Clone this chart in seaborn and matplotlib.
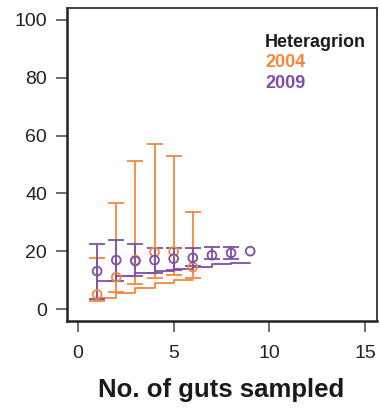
import matplotlib
matplotlib.use("Agg")
import matplotlib.pyplot as plt
import seaborn as sns
import pandas as pd

# Sampling-effort curves for Heteragrion guts, two survey years
guts_2004 = [1, 2, 3, 4, 5, 6]
mean_2004 = [5.2, 11.1, 17.0, 19.8, 20.0, 14.6]
upper_2004 = [17.6, 36.6, 51.1, 57.2, 52.9, 33.7]
lower_2004 = [2.9, 6.0, 8.6, 10.9, 11.8, 10.9]
minline_2004 = [4.0, 5.7, 7.5, 9.0, 10.1, 10.1]

guts_2009 = [1, 2, 3, 4, 5, 6, 7, 8, 9]
mean_2009 = [13.2, 17.0, 16.7, 17.0, 17.5, 17.8, 18.7, 19.5, 20.1]
upper_2009 = [22.6, 24.1, 22.6, 21.1, 21.1, 21.1, 21.6, 21.6, None]
lower_2009 = [3.7, 9.8, 11.5, 12.6, 13.6, 15.0, 17.3, 17.5, None]
minline_2009 = [9.8, 11.5, 12.6, 13.4, 14.0, 14.8, 15.5, 16.1, 16.1]

x_ticks = [0, 5, 10, 15]
y_ticks = [0, 20, 40, 60, 80, 100]
legend_title = "Heteragrion"
years = ["2004", "2009"]

ORANGE = "#F5873D"
PURPLE = "#7D50A6"

sns.set_theme(style="ticks")
plt.rcParams["font.family"] = ["Liberation Sans", "DejaVu Sans"]

fig = plt.figure(figsize=(3.8, 4.13), dpi=100)
ax = fig.add_axes([0.175, 0.2228, 0.8158, 0.7578])

series = [
    (years[0], ORANGE, guts_2004, mean_2004, upper_2004, lower_2004, minline_2004),
    (years[1], PURPLE, guts_2009, mean_2009, upper_2009, lower_2009, minline_2009),
]

for year, color, gx, gm, gu, gl, gmin in series:
    df = pd.DataFrame({"guts": gx, "mean": gm, "upper": gu, "lower": gl, "minline": gmin})
    # running minimum drawn as a step curve
    sns.lineplot(data=df, x="guts", y="minline", color=color, lw=1.3,
                 drawstyle="steps-post", ax=ax, legend=False)
    # interval bars with wide caps
    bars = df.dropna()
    ax.errorbar(bars["guts"], bars["mean"],
                yerr=[bars["mean"] - bars["lower"], bars["upper"] - bars["mean"]],
                fmt="none", ecolor=color, elinewidth=1.3, capsize=5.5, capthick=1.3)
    # mean values as open circles
    sns.scatterplot(data=df, x="guts", y="mean", marker="o", s=40,
                    facecolor="none", edgecolor=color, linewidth=1.3, ax=ax,
                    legend=False, zorder=3)

ax.set_xlim(-0.6, 15.6)
ax.set_ylim(-4, 104)
ax.set_xticks(x_ticks)
ax.set_yticks(y_ticks)
ax.set_xticklabels([str(v) for v in x_ticks])
ax.set_yticklabels([str(v) for v in y_ticks])
ax.tick_params(axis="both", labelsize=14, length=8, width=1.1,
               color="#444444", labelcolor="#222222")
ax.tick_params(axis="y", pad=6)
ax.tick_params(axis="x", pad=9)

ax.set_xlabel("No. of guts sampled", fontsize=18.5, fontweight="bold",
              color="#1a1a1a", labelpad=12)
ax.set_ylabel("")

for side in ["left", "bottom"]:
    ax.spines[side].set_linewidth(1.8)
    ax.spines[side].set_color("#222222")
for side in ["top", "right"]:
    ax.spines[side].set_visible(True)
    ax.spines[side].set_linewidth(1.3)
    ax.spines[side].set_color("#333333")

ax.text(0.64, 0.876, legend_title, transform=ax.transAxes, fontsize=13,
        fontweight="bold", color="#1a1a1a", va="baseline", ha="left")
ax.text(0.64, 0.8125, years[0], transform=ax.transAxes, fontsize=13,
        fontweight="bold", color=ORANGE, va="baseline", ha="left")
ax.text(0.64, 0.743, years[1], transform=ax.transAxes, fontsize=13,
        fontweight="bold", color=PURPLE, va="baseline", ha="left")

fig.savefig("out.png", dpi=100)
